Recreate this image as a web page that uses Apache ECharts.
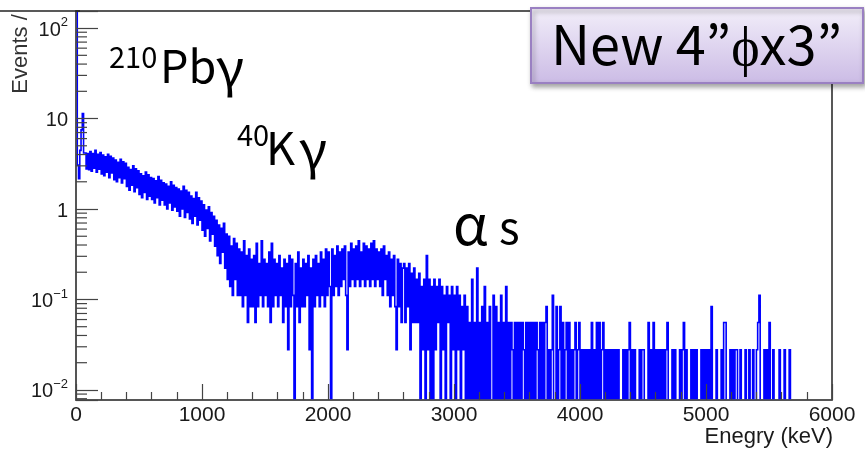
<!DOCTYPE html>
<html><head><meta charset="utf-8">
<script src="https://cdn.jsdelivr.net/npm/echarts@6/dist/echarts.min.js"></script>
<style>html,body{margin:0;padding:0;background:#fff}#c{width:865px;height:461px}</style>
</head><body><div id="c"></div>
<script>
// ---- data ----
const binWidthKeV = 10;          // histogram bin width (keV)
const countsPerUnit = 36;        // one count corresponds to 1/36 on the y axis
const counts = [
 6000,110,78,160,270,410,150,150,100,148,
 98,155,94,148,102,160,92,145,99,152,
 88,142,84,136,92,145,80,138,90,132,
 76,125,72,118,80,128,70,120,78,115,
 64,104,58,98,66,108,56,100,62,95,
 52,88,48,84,55,92,46,86,50,80,
 46,78,42,74,48,82,40,75,45,70,
 40,68,36,64,42,72,35,66,38,62,
 34,60,30,57,36,64,29,58,33,55,
 28,50,25,47,30,55,24,48,27,44,
 21,40,18,35,22,38,16,33,19,30,
 14,27,11,24,9,22,12,25,8,19,
 6,18,5,14,4,17,6,15,4,13,
 4,12,3,16,4,11,2,13,3,10,
 3,11,2,15,3,9,4,16,3,10,
 4,9,3,12,2,15,3,10,4,9,
 3,11,4,8,2,10,3,9,1,11,
 3,10,4,0,9,3,12,2,8,3,
 10,3,9,4,11,1,8,0,10,3,
 11,4,9,3,12,4,10,3,13,4,
 12,5,0,13,4,11,5,14,4,12,
 5,13,6,14,4,1,12,5,15,6,
 13,5,14,6,16,5,12,6,15,5,
 14,6,13,5,15,6,16,5,13,6,
 12,5,13,4,14,6,11,4,12,3,
 10,4,11,3,1,10,3,9,2,8,
 9,2,8,3,9,1,7,2,8,2,
 6,2,7,0,5,1,6,0,11,1,
 6,0,5,0,6,1,5,2,6,0,
 5,1,4,0,5,2,4,0,5,1,
 4,0,5,1,4,0,3,1,4,0,
 3,0,2,0,6,0,2,0,8,0,
 2,0,3,0,5,0,2,0,3,0,
 0,4,0,3,0,2,0,4,0,2,
 0,5,0,2,0,2,1,0,2,0,
 2,0,2,0,2,1,0,2,0,2,
 0,2,0,2,0,2,1,0,2,0,
 2,0,2,3,0,1,0,1,4,0,
 0,3,0,1,3,0,2,0,1,2,
 0,2,0,1,0,1,2,0,1,2,
 0,1,0,1,0,1,0,1,0,2,
 0,1,0,2,0,2,0,1,2,0,
 1,0,1,0,1,0,1,0,1,0,
 1,0,0,0,1,0,1,0,1,2,
 0,1,0,1,0,0,0,1,0,1,
 1,0,0,0,2,0,1,0,2,0,
 1,0,1,0,1,0,1,0,1,2,
 0,0,0,1,0,1,0,0,0,1,
 0,1,2,0,1,0,0,0,1,0,
 1,0,1,0,0,0,1,0,1,0,
 1,0,1,0,3,0,0,0,1,0,
 0,0,1,0,2,2,0,0,0,1,
 0,1,0,1,1,0,0,1,0,0,
 0,1,0,0,1,0,0,1,0,0,
 1,2,4,0,0,0,1,0,1,0,
 2,0,0,1,0,0,0,0,1,0,
 0,0,1,0,0,0,1,0,0,0
];
const xMin = 0, xMax = 6000, xInterval = 1000;
const yMin = 0.00774, yMax = 154.5;
const yDecades = [0.01, 0.1, 1, 10, 100];
const yDecadeLabels = ['{b|10}{s|−2}', '{b|10}{s|−1}', '{b|1}', '{b|10}', '{b|10}{s|2}'];
const xTitle = 'Enegry (keV)';
const yTitle = 'Events /';

// ---- build ----
const floorVal = 1e-4; // empty bins fall below the axis, like ROOT on a log scale
const binValues = counts.map(c => (c > 0 ? c / countsPerUnit : floorVal));
// one item per bin: [left edge, right edge, bin value]
const histItems = binValues.map((v, i) => [i * binWidthKeV, (i + 1) * binWidthKeV, v]);

const yMinorTicks = [];
[0.001, 0.01, 0.1, 1, 10].forEach(d => {
  for (let m = 2; m <= 9; m++) { const v = d * m; if (v > yMin && v < yMax) yMinorTicks.push([0, v]); }
});

const chart = echarts.init(document.getElementById('c'), null, {renderer: 'canvas'});
const labelFont = 'Liberation Sans';
const slideFont = '"Noto Sans CJK JP"';
function txt(x, y, text, size, extra) {
  return Object.assign({type: 'text', z: 50, x: x, y: y,
    style: {text: text, font: size + 'px ' + slideFont, fill: '#000', align: 'left', verticalAlign: 'middle', textAlign: 'left', textVerticalAlign: 'middle'}}, extra || {});
}
const clampV = v => Math.min(Math.max(v, yMin), yMax);

// the whole histogram outline is stroked as one path (ROOT-style steps), built through the axes' scales
function renderHistogram(params, api) {
  if (params.dataIndex !== 0) return null;
  let d = '';
  let penDown = false;
  for (let i = 0; i < histItems.length; i++) {
    const xl = histItems[i][0], xr = histItems[i][1], v = histItems[i][2];
    const prev = i > 0 ? histItems[i - 1][2] : v;
    const inside = v >= yMin && v <= yMax;
    const pA = api.coord([xl, clampV(prev)]);
    const pB = api.coord([xl, clampV(v)]);
    if (!penDown) d += 'M' + pA[0].toFixed(2) + ' ' + pA[1].toFixed(2);
    d += 'L' + pB[0].toFixed(2) + ' ' + pB[1].toFixed(2);
    if (inside) {
      const pC = api.coord([xr, clampV(v)]);
      d += 'L' + pC[0].toFixed(2) + ' ' + pC[1].toFixed(2);
      penDown = true;
    } else {
      penDown = false;
    }
  }
  return {type: 'path', shape: {pathData: d}, style: {stroke: '#0000ff', fill: 'none', lineWidth: 1.6, lineJoin: 'miter'}};
}

const option = {
  animation: false,
  backgroundColor: '#ffffff',
  grid: {left: 76, right: 33, top: 11, bottom: 61, show: true, borderColor: '#222', borderWidth: 1.5, backgroundColor: 'transparent'},
  xAxis: {
    type: 'value', min: xMin, max: xMax, interval: xInterval, z: 5,
    axisLine: {show: true, onZero: false, lineStyle: {color: '#555', width: 1.5}},
    axisTick: {show: true, inside: true, length: 16, lineStyle: {color: '#444', width: 1.2}},
    minorTick: {show: true, splitNumber: 5, length: 8, lineStyle: {color: '#444', width: 1.2}},
    splitLine: {show: false}, minorSplitLine: {show: false},
    axisLabel: {fontSize: 21, color: '#1a1a1a', margin: 5, fontFamily: labelFont, formatter: v => String(v)}
  },
  yAxis: {
    type: 'log', logBase: 10, min: yMin, max: yMax, z: 5,
    axisLine: {show: true, lineStyle: {color: '#555', width: 1.5}},
    axisTick: {show: true, inside: true, length: 22, lineStyle: {color: '#444', width: 1.2}},
    minorTick: {show: false}, splitLine: {show: false},
    axisLabel: {
      margin: 8, color: '#1a1a1a',
      formatter: function (v) {
        for (let k = 0; k < yDecades.length; k++) {
          if (Math.abs(Math.log10(v) - Math.log10(yDecades[k])) < 1e-3) return yDecadeLabels[k];
        }
        return '';
      },
      rich: {
        b: {fontSize: 20, fontFamily: labelFont, color: '#1a1a1a', lineHeight: 24, verticalAlign: 'middle', padding: [4, 0, 0, 0]},
        s: {fontSize: 13, fontFamily: labelFont, color: '#1a1a1a', lineHeight: 13, verticalAlign: 'top'}
      }
    }
  },
  series: [
    {
      type: 'custom', data: histItems, encode: {x: [0, 1], y: 2}, z: 2,
      renderItem: renderHistogram
    },
    {
      type: 'custom', data: yMinorTicks, encode: {x: 0, y: 1}, z: 6,
      renderItem: function (params, api) {
        const p = api.coord([api.value(0), api.value(1)]);
        return {type: 'line', shape: {x1: p[0], y1: p[1], x2: p[0] + 11, y2: p[1]}, style: {stroke: '#444', lineWidth: 1.2}};
      }
    }
  ],
  graphic: [
    {type: 'line', z: 50, shape: {x1: 0, y1: 11, x2: 80, y2: 11}, style: {stroke: '#222', lineWidth: 1.5}},
    {type: 'text', z: 50, x: 21, y: 54, rotation: Math.PI / 2,
      style: {text: yTitle, font: '22px "Liberation Sans"', fill: '#333', align: 'center', verticalAlign: 'middle', textAlign: 'center', textVerticalAlign: 'middle'}},
    {type: 'text', z: 50, x: 833, y: 437,
      style: {text: xTitle, font: '22px "Liberation Sans"', fill: '#1a1a1a', align: 'right', verticalAlign: 'middle', textAlign: 'right', textVerticalAlign: 'middle'}},
    txt(109, 57, '210', 29),
    txt(160, 66, 'Pb', 45),
    txt(216, 67, 'γ', 52),
    txt(237, 135, '40', 29),
    txt(266, 148, 'K', 45),
    txt(299, 149, 'γ', 52),
    txt(453, 224, 'α', 56),
    txt(499, 227, 's', 44),
    {type: 'rect', z: 60, shape: {x: 531, y: 8, width: 332, height: 75},
      style: {
        fill: {type: 'linear', x: 0, y: 0, x2: 0, y2: 1, colorStops: [{offset: 0, color: '#f3effa'}, {offset: 1, color: '#cbbbe5'}]},
        stroke: '#9a80c2', lineWidth: 2, shadowBlur: 5, shadowOffsetX: 2, shadowOffsetY: 3, shadowColor: 'rgba(0,0,0,0.35)'
      }},
    Object.assign(txt(551, 44, 'New 4”ϕx3”', 54), {z: 61})
  ]
};
chart.setOption(option);
</script>
</body></html>
